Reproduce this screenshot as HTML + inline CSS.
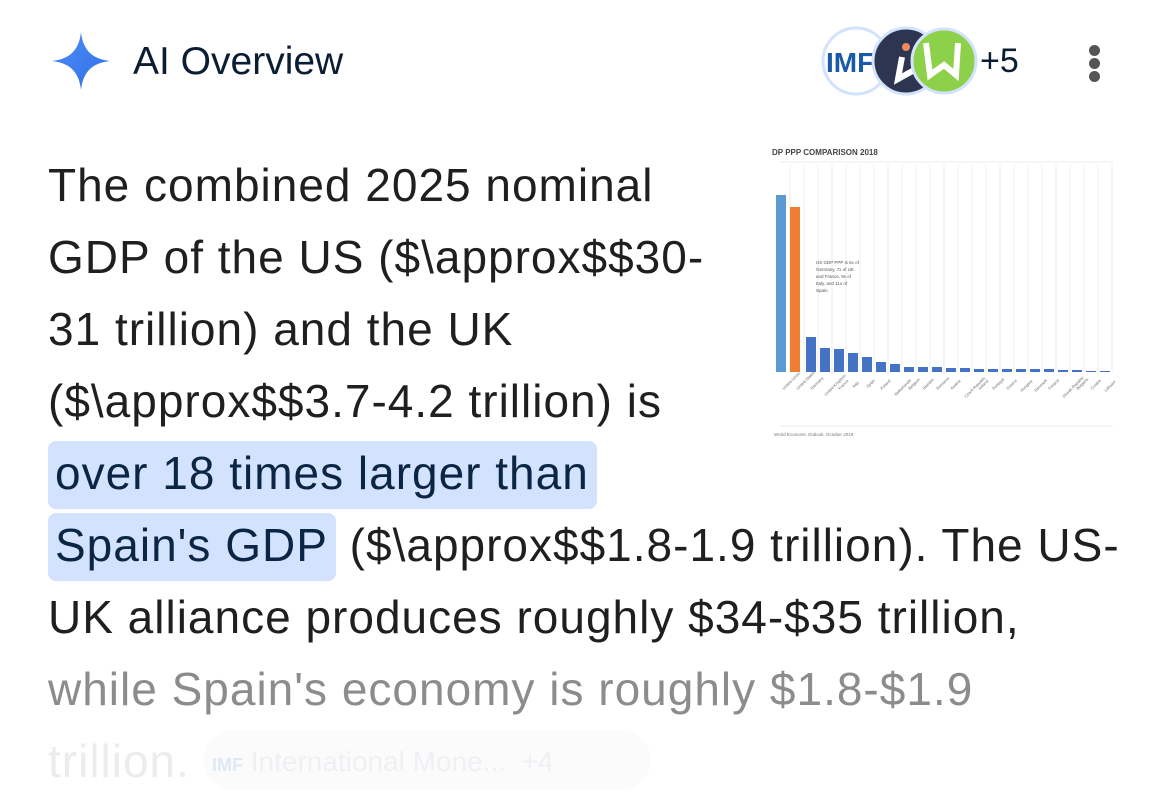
<!DOCTYPE html>
<html><head><meta charset="utf-8"><style>
body{margin:0;width:1170px;height:811px;background:#fff;overflow:hidden;position:relative;font-family:"Liberation Sans",Arial,sans-serif;}
.l{position:absolute;left:48px;font-size:46px;letter-spacing:1px;color:#1f1f1f;white-space:nowrap;line-height:1;}
.hl{background:#d3e3fd;color:#0b2545;border-radius:8px;padding:6px 8px 10px 7px;margin-left:0;}
</style></head><body>
<svg style="position:absolute;left:50px;top:30px" width="62" height="62" viewBox="0 0 62 62">
<defs><linearGradient id="g" x1="0" y1="0" x2="1" y2="1"><stop offset="0" stop-color="#4f8df5"/><stop offset="1" stop-color="#2f6fe8"/></linearGradient></defs>
<path d="M31 2 C33 20 42 29 60 31 C42 33 33 42 31 60 C29 42 20 33 2 31 C20 29 29 20 31 2Z" fill="url(#g)"/></svg>
<div style="position:absolute;left:133px;top:40px;font-size:39px;color:#0b1d33;">AI Overview</div>
<svg style="position:absolute;left:818px;top:25px" width="160" height="72">
<circle cx="38" cy="36" r="33" fill="#fff" stroke="#d3e3fd" stroke-width="3"/>
<text x="8" y="47" font-family="Liberation Sans" font-weight="bold" font-size="28" fill="#1a5aa8">IMF</text>
<circle cx="88" cy="36" r="33" fill="#2e3550" stroke="#d3e3fd" stroke-width="3"/>
<circle cx="88" cy="22" r="4" fill="#f08a5d"/>
<path d="M84 32 L80 54 L98 44" stroke="#fff" stroke-width="6" fill="none"/>
<circle cx="126" cy="36" r="32" fill="#8dd14a" stroke="#d3e3fd" stroke-width="3"/>
<path d="M108 18 L112 50 L126 40 L138 50 L140 18" stroke="#fff" stroke-width="6" fill="none"/>
</svg>
<div style="position:absolute;left:980px;top:42px;font-size:34px;color:#0b1d33;">+5</div>
<div style="position:absolute;left:1089px;top:45px;width:11px;height:11px;border-radius:50%;background:#555"></div>
<div style="position:absolute;left:1089px;top:58px;width:11px;height:11px;border-radius:50%;background:#555"></div>
<div style="position:absolute;left:1089px;top:71px;width:11px;height:11px;border-radius:50%;background:#555"></div>

<svg style="position:absolute;left:770px;top:140px" width="345" height="300" viewBox="0 0 345 300">
<text x="2" y="15" font-size="8" font-weight="bold" fill="#444">DP PPP COMPARISON 2018</text>
<line x1="10" y1="22" x2="343" y2="22" stroke="#eee"/>
<g stroke="#eee">
<line x1="20" y1="25" x2="20" y2="232"/><line x1="34" y1="25" x2="34" y2="232"/><line x1="48" y1="25" x2="48" y2="232"/><line x1="62" y1="25" x2="62" y2="232"/><line x1="76" y1="25" x2="76" y2="232"/><line x1="90" y1="25" x2="90" y2="232"/><line x1="104" y1="25" x2="104" y2="232"/><line x1="118" y1="25" x2="118" y2="232"/><line x1="132" y1="25" x2="132" y2="232"/><line x1="146" y1="25" x2="146" y2="232"/><line x1="160" y1="25" x2="160" y2="232"/><line x1="174" y1="25" x2="174" y2="232"/><line x1="188" y1="25" x2="188" y2="232"/><line x1="202" y1="25" x2="202" y2="232"/><line x1="216" y1="25" x2="216" y2="232"/><line x1="230" y1="25" x2="230" y2="232"/><line x1="244" y1="25" x2="244" y2="232"/><line x1="258" y1="25" x2="258" y2="232"/><line x1="272" y1="25" x2="272" y2="232"/><line x1="286" y1="25" x2="286" y2="232"/><line x1="300" y1="25" x2="300" y2="232"/><line x1="314" y1="25" x2="314" y2="232"/><line x1="328" y1="25" x2="328" y2="232"/><line x1="342" y1="25" x2="342" y2="232"/>
</g>
<rect x="6" y="55" width="10" height="177" fill="#5b9bd5"/>
<rect x="20" y="67" width="10" height="165" fill="#ed7d31"/>
<g fill="#4472c4">
<rect x="36" y="197" width="10" height="35"/><rect x="50" y="208" width="10" height="24"/><rect x="64" y="209" width="10" height="23"/><rect x="78" y="213" width="10" height="19"/><rect x="92" y="217" width="10" height="15"/><rect x="106" y="222" width="10" height="10"/><rect x="120" y="224" width="10" height="8"/><rect x="134" y="227" width="10" height="5"/><rect x="148" y="227" width="10" height="5"/><rect x="162" y="227" width="10" height="5"/><rect x="176" y="228" width="10" height="4"/><rect x="190" y="228" width="10" height="4"/><rect x="204" y="229" width="10" height="3"/><rect x="218" y="229" width="10" height="3"/><rect x="232" y="229" width="10" height="3"/><rect x="246" y="229" width="10" height="3"/><rect x="260" y="229" width="10" height="3"/><rect x="274" y="229" width="10" height="3"/><rect x="288" y="230" width="10" height="2"/><rect x="302" y="230" width="10" height="2"/><rect x="316" y="231" width="10" height="1"/><rect x="330" y="231" width="10" height="1"/>
</g>
<text x="46" y="124" font-size="4.5" fill="#555">US GDP PPP is 5x of</text>
<text x="46" y="131" font-size="4.5" fill="#555">Germany, 7x of UK</text>
<text x="46" y="138" font-size="4.5" fill="#555">and France, 9x of</text>
<text x="46" y="145" font-size="4.5" fill="#555">Italy, and 11x of</text>
<text x="46" y="152" font-size="4.5" fill="#555">Spain.</text>
<g font-size="4" fill="#666">
<text transform="translate(14,250) rotate(-45)">United Union</text><text transform="translate(28,250) rotate(-45)">United States</text><text transform="translate(42,250) rotate(-45)">Germany</text><text transform="translate(56,256) rotate(-45)">United Kingdom</text><text transform="translate(70,250) rotate(-45)">France</text><text transform="translate(84,248) rotate(-45)">Italy</text><text transform="translate(98,248) rotate(-45)">Spain</text><text transform="translate(112,250) rotate(-45)">Poland</text><text transform="translate(126,256) rotate(-45)">Netherlands</text><text transform="translate(140,250) rotate(-45)">Belgium</text><text transform="translate(154,250) rotate(-45)">Sweden</text><text transform="translate(168,250) rotate(-45)">Romania</text><text transform="translate(182,250) rotate(-45)">Austria</text><text transform="translate(196,258) rotate(-45)">Czech Republic</text><text transform="translate(210,250) rotate(-45)">Ireland</text><text transform="translate(224,250) rotate(-45)">Portugal</text><text transform="translate(238,250) rotate(-45)">Greece</text><text transform="translate(252,252) rotate(-45)">Hungary</text><text transform="translate(266,252) rotate(-45)">Denmark</text><text transform="translate(280,250) rotate(-45)">Finland</text><text transform="translate(294,258) rotate(-45)">Slovak Republic</text><text transform="translate(308,250) rotate(-45)">Bulgaria</text><text transform="translate(322,250) rotate(-45)">Croatia</text><text transform="translate(336,252) rotate(-45)">Lithuania</text>
</g>
<line x1="10" y1="286" x2="343" y2="286" stroke="#eee"/>
<text x="4" y="296" font-size="4.5" fill="#777">World Economic Outlook, October 2018</text>
</svg>

<div class="l" style="top:162px">The combined 2025 nominal</div>
<div class="l" style="top:234px">GDP of the US ($\approx$$30-</div>
<div class="l" style="top:306px">31 trillion) and the UK</div>
<div class="l" style="top:378px">($\approx$$3.7-4.2 trillion) is</div>
<div class="l" style="top:450px"><span class="hl">over 18 times larger than</span></div>
<div class="l" style="top:522px"><span class="hl">Spain's GDP</span> ($\approx$$1.8-1.9 trillion). The US-</div>
<div class="l" style="top:594px">UK alliance produces roughly $34-$35 trillion,</div>
<div class="l" style="top:666px;color:#8c8c8c">while Spain's economy is roughly $1.8-$1.9</div>
<div class="l" style="top:738px;color:#ececec">trillion.</div>
<div style="position:absolute;left:203px;top:730px;width:448px;height:60px;border-radius:30px;background:#fbfbfb;"></div>
<div style="position:absolute;left:212px;top:746px;font-size:28px;color:#eef0f4;white-space:nowrap"><b style="font-size:18px;color:#dfe8f5">IMF</b> International Mone...&nbsp;&nbsp;+4</div>
</body></html>
